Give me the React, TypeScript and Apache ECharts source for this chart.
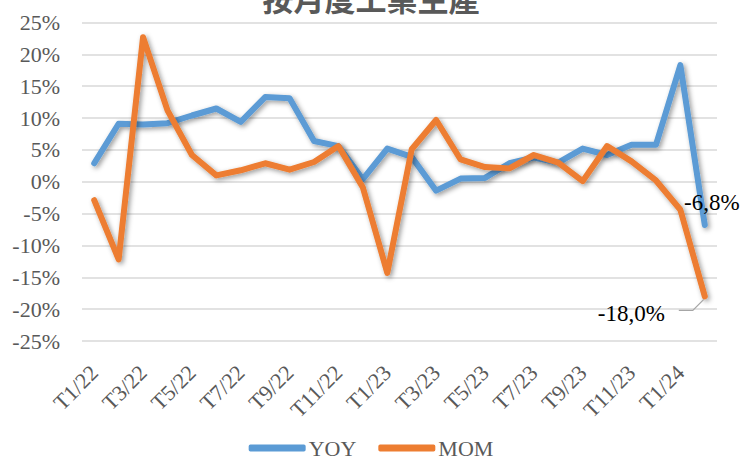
import React, { useEffect, useRef } from "react";
import * as echarts from "echarts";

const TITLE = "按月度工業生產";
const CATEGORIES = [
  "T1/22", "T2/22", "T3/22", "T4/22", "T5/22", "T6/22", "T7/22", "T8/22", "T9/22", "T10/22", "T11/22", "T12/22",
  "T1/23", "T2/23", "T3/23", "T4/23", "T5/23", "T6/23", "T7/23", "T8/23", "T9/23", "T10/23", "T11/23", "T12/23",
  "T1/24", "T2/24",
];
const YOY = [2.9, 9.1, 9.0, 9.2, 10.4, 11.5, 9.4, 13.3, 13.1, 6.4, 5.6, 0.4, 5.2, 3.9, -1.4, 0.5, 0.6, 2.9, 3.8, 3.0, 5.2, 4.2, 5.8, 5.8, 18.3, -6.8];
const MOM = [-2.9, -12.2, 22.7, 11.2, 4.2, 1.0, 1.8, 2.9, 1.9, 3.1, 5.6, -0.9, -14.3, 5.1, 9.7, 3.5, 2.3, 2.1, 4.2, 3.0, 0.1, 5.6, 3.2, 0.2, -4.4, -18.0];
const Y_MIN = -25;
const Y_MAX = 25;
const Y_STEP = 5;

const BLUE = "#5B9BD5";
const ORANGE = "#ED7D31";
const GREY = "#595959";
const SERIF = "'Liberation Serif', 'Times New Roman', serif";

const fmt = (v: number) => v.toFixed(1).replace(".", ",") + "%";

export default function App() {
  const ref = useRef<HTMLDivElement>(null);
  useEffect(() => {
    if (!ref.current) return;
    const chart = echarts.init(ref.current, undefined, { renderer: "svg" });
    const shadow = {
      shadowColor: "rgba(0,0,0,0.4)",
      shadowBlur: 5,
      shadowOffsetX: 2,
      shadowOffsetY: 2,
    };
    const last = CATEGORIES.length - 1;
    const yoyData = YOY.map((v, i) =>
      i === last
        ? {
            value: v,
            label: {
              show: true,
              position: "inside",
              offset: [7, -23],
              formatter: () => fmt(v),
              color: "#000",
              fontFamily: SERIF,
              fontSize: 23,
            },
          }
        : v
    );
    const momData = MOM.map((v, i) =>
      i === last
        ? {
            value: v,
            label: {
              show: true,
              position: "inside",
              offset: [-68, 17],
              padding: [0, 11, 0, 0],
              formatter: () => fmt(v),
              color: "#000",
              fontFamily: SERIF,
              fontSize: 23,
            },
          }
        : v
    );
    const titleGraphic = {
      type: "text",
      left: "center",
      top: -18,
      style: {
        text: TITLE,
        fontFamily: "'Noto Sans CJK TC', 'Noto Sans CJK SC', sans-serif",
        fontSize: 31,
        fontWeight: "bold",
        fill: GREY,
      },
    };
    chart.setOption({
      animation: false,
      backgroundColor: "#fff",
      graphic: [titleGraphic],
      grid: { left: 82, right: 25, top: 22.5, bottom: 125, containLabel: false },
      legend: {
        bottom: 2,
        left: "center",
        icon: "roundRect",
        itemWidth: 57,
        itemHeight: 7,
        itemGap: 22,
        textStyle: { fontFamily: SERIF, fontSize: 22, color: GREY, padding: [0, 0, 0, -2] },
        data: [
          { name: "YOY", itemStyle: { color: BLUE } },
          { name: "MOM", itemStyle: { color: ORANGE } },
        ],
      },
      xAxis: {
        type: "category",
        data: CATEGORIES,
        boundaryGap: true,
        axisLine: { show: false },
        axisTick: { show: false },
        axisLabel: {
          interval: 1,
          rotate: 45,
          margin: 28,
          fontFamily: SERIF,
          fontSize: 22,
          color: GREY,
        },
      },
      yAxis: {
        type: "value",
        min: Y_MIN,
        max: Y_MAX,
        interval: Y_STEP,
        axisLine: { show: false },
        axisTick: { show: false },
        axisLabel: {
          formatter: (v: number) => `${v}%`,
          fontFamily: SERIF,
          fontSize: 22,
          color: GREY,
          margin: 22,
        },
        splitLine: { lineStyle: { color: "#d9d9d9", width: 1.5 } },
      },
      series: [
        {
          name: "YOY",
          type: "line",
          data: yoyData,
          symbol: "circle",
          symbolSize: 0,
          showSymbol: true,
          itemStyle: { color: BLUE },
          lineStyle: { color: BLUE, width: 6, cap: "round", join: "round", ...shadow },
          z: 2,
        },
        {
          name: "MOM",
          type: "line",
          data: momData,
          symbol: "circle",
          symbolSize: 0,
          showSymbol: true,
          itemStyle: { color: ORANGE },
          lineStyle: { color: ORANGE, width: 6, cap: "round", join: "round", ...shadow },
          z: 3,
        },
      ],
    });
    // leader line for the MOM end label, anchored at the point's pixel position from the chart's own scales
    const p = chart.convertToPixel({ gridIndex: 0 }, [last, MOM[last]]) as number[];
    if (p) {
      chart.setOption({
        graphic: [
          titleGraphic,
          {
            type: "polyline",
            z: 10,
            shape: {
              points: [
                [p[0] - 26, p[1] + 14],
                [p[0] - 12, p[1] + 14],
                [p[0] - 1, p[1] + 3],
              ],
            },
            style: { stroke: "#a6a6a6", lineWidth: 1.3, fill: "none" },
          },
        ],
      });
    }
    return () => chart.dispose();
  }, []);
  return <div ref={ref} style={{ width: 742, height: 466, position: "absolute", left: 0, top: 0 }} />;
}
